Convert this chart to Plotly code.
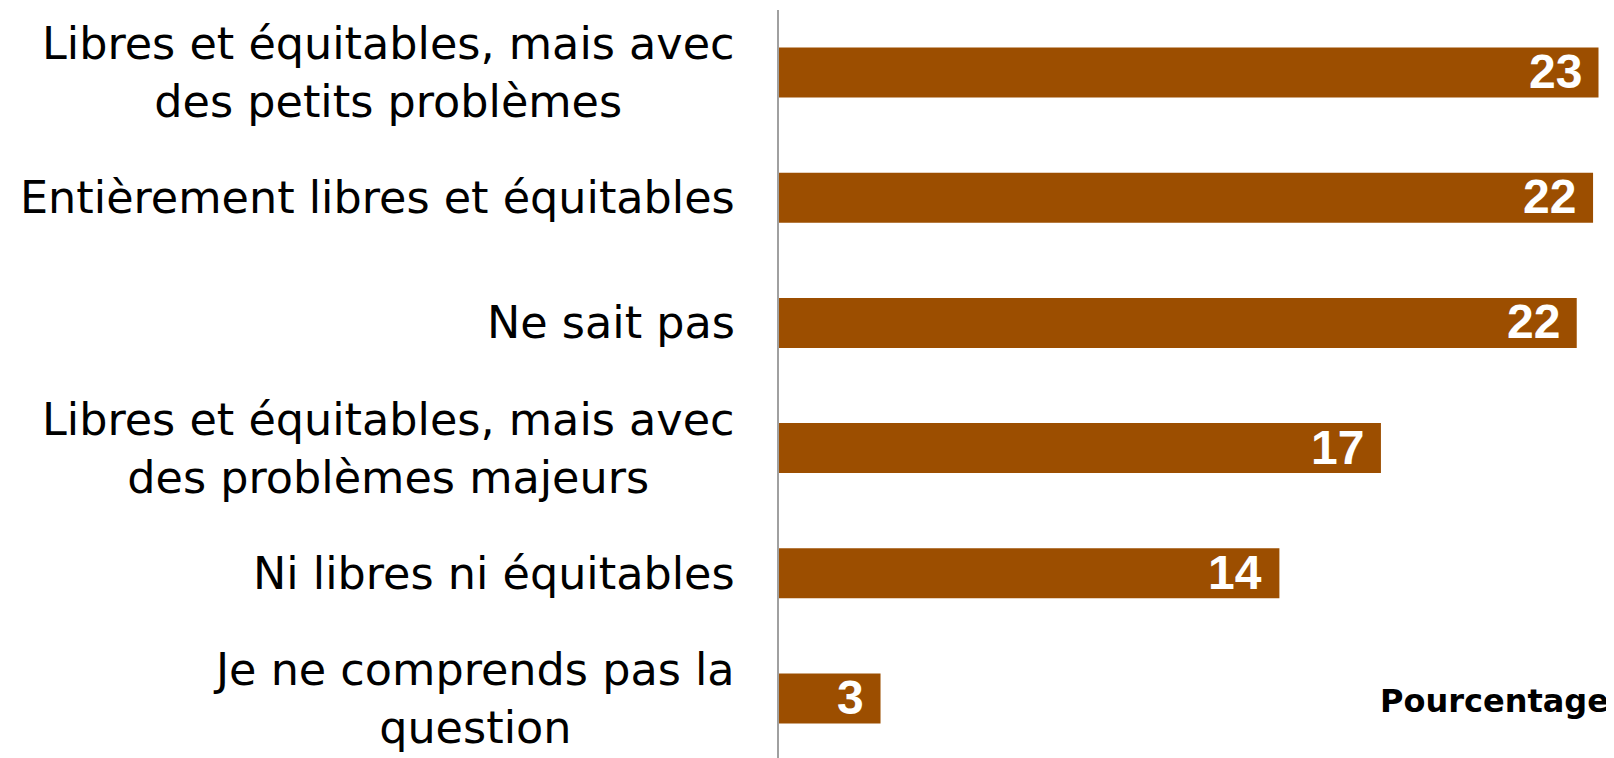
import plotly.graph_objects as go

categories = [
    'Libres et équitables, mais avec<br>des petits problèmes',
    'Entièrement libres et équitables',
    'Ne sait pas',
    'Libres et équitables, mais avec<br>des problèmes majeurs',
    'Ni libres ni équitables',
    'Je ne comprends pas la<br>question',
]
values = [22.6, 22.45, 22.0, 16.6, 13.8, 2.8]
axis_title = 'Pourcentage'

bar_color = '#9c4e00'

fig = go.Figure(go.Bar(
    x=values, y=categories, orientation='h',
    marker=dict(color=bar_color, line=dict(width=0)),
    hoverinfo='skip', showlegend=False,
))

annotations = []
# category labels, lines centred on each other, right side near the axis
for cat in categories:
    annotations.append(dict(
        x=0, xref='paper', y=cat, yref='y', text=cat,
        xanchor='right', yanchor='middle', align='center', xshift=-42,
        showarrow=False, font=dict(family='DejaVu Sans', size=44.5, color='#000000'),
    ))
# value labels inside the bar ends
for cat, v in zip(categories, values):
    annotations.append(dict(
        x=v, xref='x', y=cat, yref='y', text=f'{round(v)}',
        xanchor='right', yanchor='middle', xshift=-15, yshift=1,
        showarrow=False,
        font=dict(family='Liberation Sans', size=48, color='white', weight='bold'),
    ))
annotations.append(dict(
    x=1, xref='paper', y=categories[-1], yref='y', text=axis_title,
    xanchor='right', yanchor='middle', xshift=-2, yshift=-3, showarrow=False,
    font=dict(family='DejaVu Sans', size=32, color='#000000', weight='bold'),
))

# the page adds an 8px body margin, so the figure is trimmed to fit
fig.update_layout(
    width=1606, height=758,
    margin=dict(l=771, r=1, t=2, b=5),
    plot_bgcolor='white', paper_bgcolor='white',
    bargap=0.6,
    annotations=annotations,
    xaxis=dict(range=[0, 23], showgrid=False, showticklabels=False, zeroline=False,
               showline=False, ticks=''),
    yaxis=dict(autorange='reversed', showgrid=False, showticklabels=False,
               showline=True, linecolor='#a0a0a0', linewidth=2, ticks=''),
)

fig.write_html('out.html')
